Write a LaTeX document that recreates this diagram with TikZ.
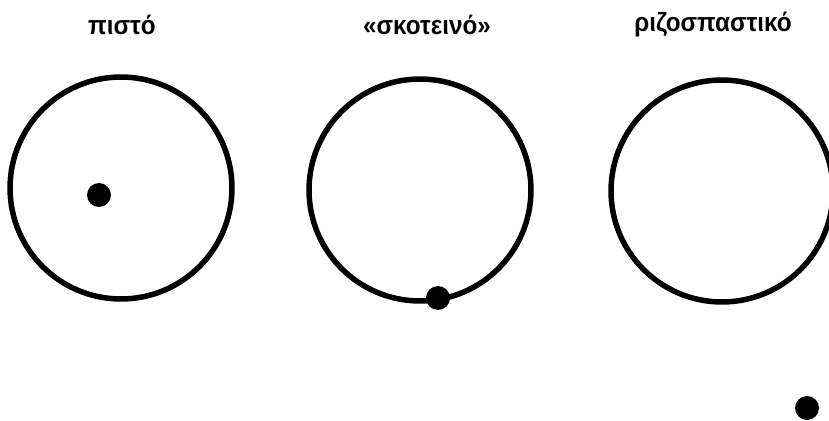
\documentclass[tikz,border=0pt]{standalone}
\usepackage{fontspec}
\setmainfont{Liberation Sans}[BoldFont={Liberation Sans Bold}]
\usetikzlibrary{positioning}

\begin{document}
\begin{tikzpicture}[x=0.02cm,y=0.02cm,
  ring/.style={draw=black,circle,line width=0.11cm,minimum size=4.44cm,inner sep=0pt},
  dot/.style={fill=black,circle,minimum size=0.48cm,inner sep=0pt},
  title/.style={font=\bfseries\fontsize{15}{17}\selectfont,inner sep=0pt,xscale=0.92},
]
\useasboundingbox (0,0) rectangle (829,420);
\clip (0,0) rectangle (829,420);
% the three orbits
\node[ring] (faithful) at (121,232) {};
\node[ring] (dark)     at (420,230) {};
\node[ring] (radical)  at (722,229) {};
% the satellites
\node[dot] (faithfuldot) at (99,225) {};
\node[dot] (darkdot)     at (438,122) {};
\node[dot] (radicaldot)  at (807,12) {};
% headings
\node[title] (faithfullbl) at (122,395) {πιστό};
\node[title] (darklbl)     at (427,395) {«σκοτεινό»};
\node[title] (radicallbl)  at (713,395) {ριζοσπαστικό};
\end{tikzpicture}
\end{document}
